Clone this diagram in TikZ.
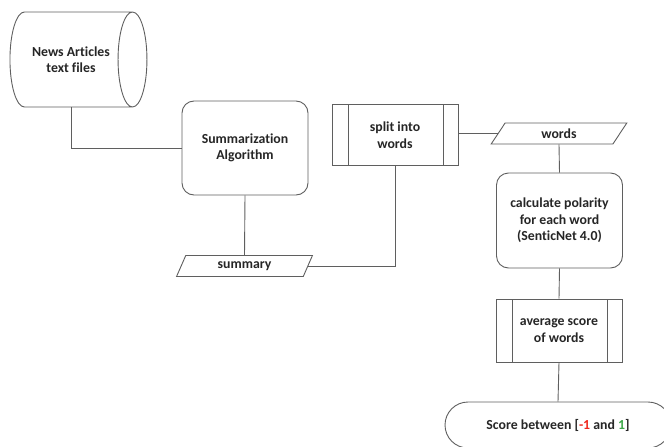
\documentclass[tikz,border=0pt]{standalone}
\usepackage{fontspec}
\setmainfont[Ligatures=NoCommon]{Carlito}
\usetikzlibrary{positioning, calc, shapes.geometric, shapes.misc}
\definecolor{edgegray}{HTML}{5F5F5F}
\definecolor{txtdark}{HTML}{262626}
\definecolor{negred}{HTML}{F0281E}
\definecolor{posgreen}{HTML}{3EA84A}
\tikzset{
    fcbase/.style={draw=edgegray, line width=0.9pt, fill=white, align=center, inner sep=0pt,
        text=txtdark, font=\fontsize{13.8}{16.5}\selectfont\bfseries},
    fcstore/.style={fcbase, cylinder, shape border rotate=0, aspect=1.1,
        minimum width=95pt, minimum height=137pt},
    fcproc/.style={fcbase, rectangle, rounded corners=12pt, minimum width=126pt, minimum height=94pt},
    fcio/.style={fcbase, trapezium, trapezium left angle=65, trapezium right angle=115,
        trapezium stretches=true, minimum width=136pt, minimum height=21pt},
    fcsub/.style={fcbase, rectangle, minimum width=126pt, minimum height=61pt,
        path picture={
            \draw[edgegray, line width=0.9pt]
                ([xshift=16pt]path picture bounding box.north west) -- ([xshift=16pt]path picture bounding box.south west)
                ([xshift=-15pt]path picture bounding box.north east) -- ([xshift=-15pt]path picture bounding box.south east);
        }},
    fcterm/.style={fcbase, rounded rectangle, minimum width=226pt, minimum height=46pt},
    fcline/.style={draw=edgegray, line width=0.9pt}
}

\begin{document}
\begin{tikzpicture}[x=1pt, y=-1pt]
    \useasboundingbox (0,0) rectangle (664,447);
    \begin{scope}
    \clip (0,0) rectangle (664,447);
    \node[fcstore] (news) at (71,59.5) {News Articles\\text files};
    \node[fcproc] (summ) at (245,148) {Summarization\\Algorithm};
    \node[fcio] (summary) at (244.5,266) {summary};
    \node[fcsub] (split) at (395,135) {split into\\words};
    \node[fcio] (words) at (559,133.5) {words};
    \node[fcproc, minimum height=95pt] (calc) at (559.5,220.5) {calculate polarity\\for each word\\(SenticNet 4.0)};
    \node[fcsub, minimum height=63pt] (avg) at (559,330.5) {average score\\of words};
    \node[fcterm] (score) at (558,425) {Score between [{\color{negred}-1} and {\color{posgreen}1}]};

    % Connectors
    \draw[fcline] (news.center |- news.south) |- (summ.west);
    \draw[fcline] (summ.south) -- (summary.north);
    \draw[fcline] (summary.east) -| (split.south);
    \draw[fcline] (split.east |- words.west) -- (words.west);
    \draw[fcline] (words.south) -- (calc.north);
    \draw[fcline] (calc.south) -- (avg.north);
    \draw[fcline] (avg.south) -- (score.north);
    \end{scope}
\end{tikzpicture}
\end{document}
